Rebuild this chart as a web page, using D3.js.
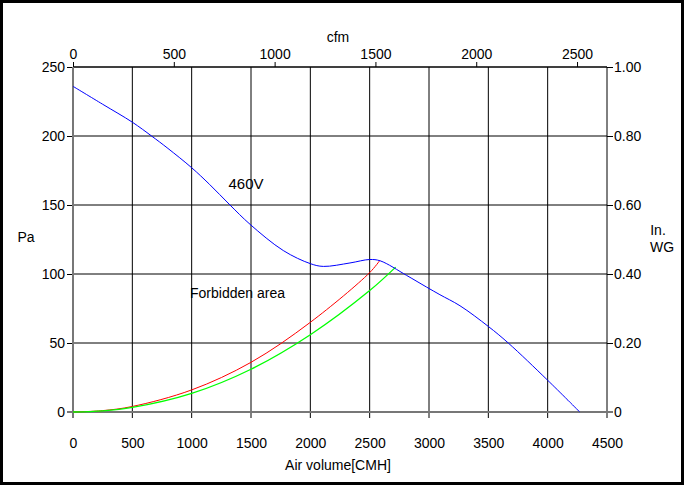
<!DOCTYPE html>
<html>
<head>
<meta charset="utf-8">
<script src="https://cdn.jsdelivr.net/npm/d3@7"></script>
<style>
  body { margin: 0; background: #fff; }
  svg text { font-family: "Liberation Sans", Arial, sans-serif; fill: #000; }
</style>
</head>
<body>
<div id="chart-area"></div>
<script>
// data: [air volume CMH, pressure Pa]
const cmhTicks = [0, 500, 1000, 1500, 2000, 2500, 3000, 3500, 4000, 4500]
const cfmTicks = [0, 500, 1000, 1500, 2000, 2500]
const paTicks = [0, 50, 100, 150, 200, 250]
const wgTicks = [0, 0.2, 0.4, 0.6, 0.8, 1.0]

const fan460V = [
  [0, 236], [250, 223], [500, 210], [662, 200], [800, 191], [1000, 177],
  [1150, 165], [1323, 150], [1492, 136], [1772, 117], [2000, 107.5],
  [2110, 105.5], [2334, 108], [2500, 110.5], [2590, 109.5], [2811, 99],
  [2980, 90.5], [3092, 85], [3261, 77], [3500, 62], [3668, 50], [4000, 23],
  [4270, 0]
]
const redCurve = [
  [0, 0], [250, 1], [500, 4], [1000, 16], [1500, 36], [2000, 65],
  [2500, 101], [2587, 110]
]
const greenCurve = [
  [0, 0], [250, 0.8], [500, 3.3], [1000, 13.5], [1500, 31], [2000, 56],
  [2500, 88], [2719, 105]
]

const W = 684, H = 485
const MARGIN = { LEFT: 73, RIGHT: 77, TOP: 67, BOTTOM: 73 }

const svg = d3.select('#chart-area').append('svg')
  .attr('width', W)
  .attr('height', H)

// frame
svg.append('rect')
  .attr('x', 1.5).attr('y', 1.5)
  .attr('width', W - 3).attr('height', H - 3)
  .attr('fill', 'none').attr('stroke', '#000').attr('stroke-width', 3)

const x = d3.scaleLinear().domain([0, 4500]).range([MARGIN.LEFT, W - MARGIN.RIGHT])
const xCfm = d3.scaleLinear().domain([0, 4500 / 1.699]).range([MARGIN.LEFT, W - MARGIN.RIGHT])
const y = d3.scaleLinear().domain([0, 250]).range([H - MARGIN.BOTTOM, MARGIN.TOP])
const yWg = d3.scaleLinear().domain([0, 1]).range([H - MARGIN.BOTTOM, MARGIN.TOP])

const fontSize = '14px'

// horizontal grid (left axis)
const yAxis = d3.axisLeft(y).tickValues(paTicks).tickSize(6).tickPadding(2)
  .tickFormat(d3.format('d'))
const gy = svg.append('g')
  .attr('transform', `translate(${MARGIN.LEFT},0)`)
  .call(yAxis)
gy.select('.domain').remove()
gy.selectAll('.tick line').attr('stroke', d => d === 0 ? '#777' : '#000')
gy.selectAll('.tick text').attr('font-size', fontSize).attr('font-family', null)

svg.append('g').selectAll('line')
  .data(paTicks.filter(d => d > 0))
  .enter().append('line')
  .attr('x1', x(0)).attr('x2', x(4500))
  .attr('y1', d => y(d)).attr('y2', d => y(d))
  .attr('stroke', '#000')

// vertical grid
svg.append('g').selectAll('line')
  .data(cmhTicks.filter(d => d > 0 && d < 4500))
  .enter().append('line')
  .attr('x1', d => x(d)).attr('x2', d => x(d))
  .attr('y1', y(250)).attr('y2', y(0) + 6)
  .attr('stroke', '#000')

// bottom axis
const xAxis = d3.axisBottom(x).tickValues(cmhTicks).tickSize(6).tickPadding(20)
  .tickFormat(d3.format('d'))
const gx = svg.append('g')
  .attr('transform', `translate(0,${y(0)})`)
  .call(xAxis)
gx.select('.domain').remove()
gx.selectAll('.tick line').remove()
gx.selectAll('.tick text').attr('font-size', fontSize).attr('font-family', null)

// top axis (cfm)
const xTop = d3.axisTop(xCfm).tickValues(cfmTicks).tickSize(5).tickPadding(3)
  .tickFormat(d3.format('d'))
const gt = svg.append('g')
  .attr('transform', `translate(0,${y(250)})`)
  .call(xTop)
gt.select('.domain').remove()
gt.selectAll('.tick text').attr('font-size', fontSize).attr('font-family', null)

svg.append('line')
  .attr('x1', x(0)).attr('x2', x(4500))
  .attr('y1', y(250)).attr('y2', y(250))
  .attr('stroke', '#000')

// right axis (In. WG)
const yRight = d3.axisRight(yWg).tickValues(wgTicks).tickSize(6).tickPadding(1)
  .tickFormat(d => d === 0 ? '0' : d3.format('.2f')(d))
const gr = svg.append('g')
  .attr('transform', `translate(${x(4500)},0)`)
  .call(yRight)
gr.select('.domain').remove()
gr.selectAll('.tick text').attr('font-size', fontSize).attr('font-family', null)

svg.append('line')
  .attr('x1', x(4500)).attr('x2', x(4500))
  .attr('y1', y(250)).attr('y2', y(0) + 6)
  .attr('stroke', '#000')

// zero lines (grey)
svg.append('line')
  .attr('x1', x(0) - 6).attr('x2', x(4500) + 6)
  .attr('y1', y(0)).attr('y2', y(0))
  .attr('stroke', '#777').attr('stroke-width', 2)
svg.append('line')
  .attr('x1', x(0)).attr('x2', x(0))
  .attr('y1', y(250)).attr('y2', y(0) + 6)
  .attr('stroke', '#777').attr('stroke-width', 2)

// curves
const line = d3.line()
  .x(d => x(d[0]))
  .y(d => y(d[1]))
  .curve(d3.curveCatmullRom.alpha(0.5))

svg.append('path').datum(redCurve)
  .attr('d', line).attr('fill', 'none').attr('stroke', '#ff0000').attr('stroke-width', 1)
svg.append('path').datum(greenCurve)
  .attr('d', line).attr('fill', 'none').attr('stroke', '#00ff00').attr('stroke-width', 1.3)
svg.append('path').datum(fan460V)
  .attr('d', line).attr('fill', 'none').attr('stroke', '#0000ff').attr('stroke-width', 1)

// labels
svg.append('text').attr('x', 246).attr('y', 189)
  .attr('font-size', '15px').attr('text-anchor', 'middle').text('460V')
svg.append('text').attr('x', 190).attr('y', 298)
  .attr('font-size', '14px').text('Forbidden area')

svg.append('text').attr('x', 338).attr('y', 42)
  .attr('font-size', fontSize).attr('text-anchor', 'middle').text('cfm')
svg.append('text').attr('x', 338).attr('y', 470)
  .attr('font-size', fontSize).attr('text-anchor', 'middle').text('Air volume[CMH]')
svg.append('text').attr('x', 26).attr('y', 242)
  .attr('font-size', fontSize).attr('text-anchor', 'middle').text('Pa')
svg.append('text').attr('x', 658).attr('y', 235)
  .attr('font-size', fontSize).attr('text-anchor', 'middle').text('In.')
svg.append('text').attr('x', 662).attr('y', 252)
  .attr('font-size', fontSize).attr('text-anchor', 'middle').text('WG')
</script>
</body>
</html>
